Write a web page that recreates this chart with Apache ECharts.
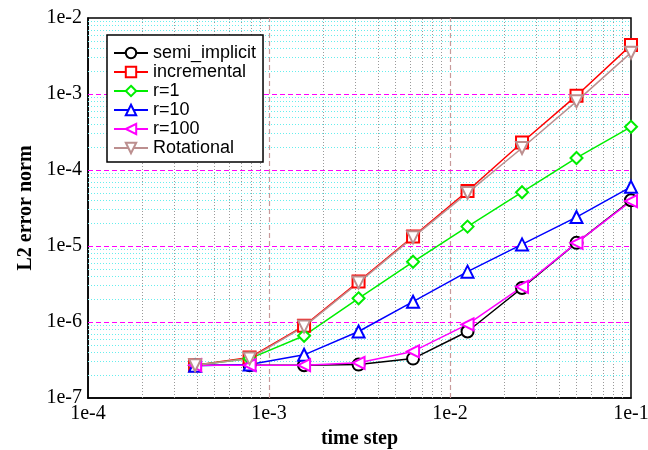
<!DOCTYPE html>
<html>
<head>
    <meta charset="utf-8">
    <title>L2 error norm vs time step</title>
    <script src="https://cdn.jsdelivr.net/npm/echarts@6/dist/echarts.min.js"></script>
    <style>
        body { margin: 0; background: #fff; }
    </style>
</head>
<body>
    <div id="main" style="width:648px;height:450px;"></div>
    <script type="text/javascript">
        // time steps (x) and error values
        var timeSteps = [0.000390625, 0.00078125, 0.0015625, 0.003125, 0.00625, 0.0125, 0.025, 0.05, 0.1];
        var semiImplicit = [2.7e-7, 2.7e-7, 2.7e-7, 2.75e-7, 3.3e-7, 7.5e-7, 2.8e-6, 1.1e-5, 4.0e-5];
        var incremental = [2.7e-7, 3.4e-7, 8.9e-7, 3.4e-6, 1.33e-5, 5.3e-5, 2.3e-4, 9.5e-4, 4.4e-3];
        var r1 = [2.7e-7, 3.3e-7, 6.6e-7, 2.05e-6, 6.2e-6, 1.8e-5, 5.1e-5, 1.44e-4, 3.7e-4];
        var r10 = [2.65e-7, 2.75e-7, 3.7e-7, 7.5e-7, 1.85e-6, 4.6e-6, 1.05e-5, 2.4e-5, 6.0e-5];
        var r100 = [2.7e-7, 2.7e-7, 2.7e-7, 2.9e-7, 4.1e-7, 9.3e-7, 2.9e-6, 1.1e-5, 3.9e-5];
        var rotational = [2.7e-7, 3.3e-7, 8.7e-7, 3.3e-6, 1.3e-5, 5.0e-5, 1.95e-4, 8.0e-4, 3.5e-3];

        // axis ranges
        var xRange = [1e-4, 1e-1];
        var yRange = [1e-7, 1e-2];

        // grid line positions
        var xMajor = [1e-3, 1e-2];
        var yMajor = [1e-6, 1e-5, 1e-4, 1e-3];
        var xMinor = [2e-4, 3e-4, 4e-4, 5e-4, 6e-4, 7e-4, 8e-4, 9e-4,
                      2e-3, 3e-3, 4e-3, 5e-3, 6e-3, 7e-3, 8e-3, 9e-3,
                      2e-2, 3e-2, 4e-2, 5e-2, 6e-2, 7e-2, 8e-2, 9e-2];
        var yMinor = [2e-7, 3e-7, 4e-7, 5e-7, 6e-7, 7e-7, 8e-7, 9e-7,
                      2e-6, 3e-6, 4e-6, 5e-6, 6e-6, 7e-6, 8e-6, 9e-6,
                      2e-5, 3e-5, 4e-5, 5e-5, 6e-5, 7e-5, 8e-5, 9e-5,
                      2e-4, 3e-4, 4e-4, 5e-4, 6e-4, 7e-4, 8e-4, 9e-4,
                      2e-3, 3e-3, 4e-3, 5e-3, 6e-3, 7e-3, 8e-3, 9e-3];

        var serif = '"Liberation Serif", "DejaVu Serif", serif';
        var sans = '"Liberation Sans", Arial, sans-serif';

        function pairs(ys) {
            return timeSteps.map(function (x, i) { return [x, ys[i]]; });
        }
        function expLabel(v) {
            return '1e' + Math.round(Math.log10(v));
        }
        function vLines(xs) {
            return xs.map(function (v) { return { coords: [[v, yRange[0]], [v, yRange[1]]] }; });
        }
        function hLines(ys) {
            return ys.map(function (v) { return { coords: [[xRange[0], v], [xRange[1], v]] }; });
        }
        function gridSeries(name, data, color, dash, width, z) {
            return {
                name: name,
                type: 'lines',
                coordinateSystem: 'cartesian2d',
                silent: true,
                z: z,
                lineStyle: { color: color, type: dash, width: width, opacity: 1 },
                data: data
            };
        }
        function mkSeries(name, ys, color, symbol, rot) {
            return {
                name: name,
                type: 'line',
                data: pairs(ys),
                symbol: symbol,
                symbolSize: 12,
                symbolRotate: rot || 0,
                showAllSymbol: true,
                z: 3,
                lineStyle: { color: color, width: 1.5 },
                itemStyle: { color: color, borderColor: color, borderWidth: 1.2 }
            };
        }

        var myChart = echarts.init(document.getElementById('main'));

        var option = {
            backgroundColor: '#fff',
            animation: false,
            grid: {
                left: 88, right: 17, top: 18, bottom: 52,
                outerBoundsMode: 'none',
                containLabel: false,
                show: true,
                borderColor: '#000',
                borderWidth: 1.5,
                backgroundColor: 'transparent'
            },
            legend: {
                orient: 'vertical',
                left: 107,
                top: 35,
                backgroundColor: '#fff',
                borderColor: '#000',
                borderWidth: 1.5,
                borderRadius: 0,
                padding: [9, 7, 5, 6],
                itemGap: 1,
                itemWidth: 34,
                itemHeight: 13,
                textStyle: { fontFamily: sans, fontSize: 18, color: '#000' },
                data: ['semi_implicit', 'incremental', 'r=1', 'r=10', 'r=100', 'Rotational']
            },
            xAxis: {
                type: 'log',
                logBase: 10,
                min: xRange[0],
                max: xRange[1],
                name: 'time step',
                nameLocation: 'middle',
                nameGap: 31,
                nameTextStyle: { fontFamily: serif, fontSize: 20, fontWeight: 'bold', color: '#000' },
                axisLine: { show: true, lineStyle: { color: '#000', width: 1.5 } },
                axisTick: { show: false },
                axisLabel: { formatter: expLabel, fontFamily: serif, fontSize: 20, color: '#000', margin: 6 },
                splitLine: { show: false }
            },
            yAxis: {
                type: 'log',
                logBase: 10,
                min: yRange[0],
                max: yRange[1],
                name: 'L2 error norm',
                nameLocation: 'middle',
                nameGap: 50,
                nameRotate: 90,
                nameTextStyle: { fontFamily: serif, fontSize: 20, fontWeight: 'bold', color: '#000' },
                axisLine: { show: true, lineStyle: { color: '#000', width: 1.5 } },
                axisTick: { show: false },
                axisLabel: { formatter: expLabel, fontFamily: serif, fontSize: 20, color: '#000', margin: 6 },
                splitLine: { show: false }
            },
            series: [
                gridSeries('x minor grid', vLines(xMinor), '#999', [1, 2], 1, 1),
                gridSeries('y minor grid', hLines(yMinor), '#66eeee', [1, 2], 1, 1),
                gridSeries('x major grid', vLines(xMajor), '#c89a9a', [5, 3], 1.2, 2),
                gridSeries('y major grid', hLines(yMajor), '#ff00ff', [5, 3], 1.2, 2),
                mkSeries('semi_implicit', semiImplicit, '#000000', 'emptyCircle'),
                mkSeries('incremental', incremental, '#ff0000', 'emptyRect'),
                mkSeries('r=1', r1, '#00ee00', 'emptyDiamond'),
                mkSeries('r=10', r10, '#0000ff', 'emptyTriangle'),
                mkSeries('r=100', r100, '#ff00ff', 'emptyTriangle', 90),
                mkSeries('Rotational', rotational, '#bc8f8f', 'emptyTriangle', 180)
            ]
        };

        myChart.setOption(option);
    </script>
</body>
</html>
